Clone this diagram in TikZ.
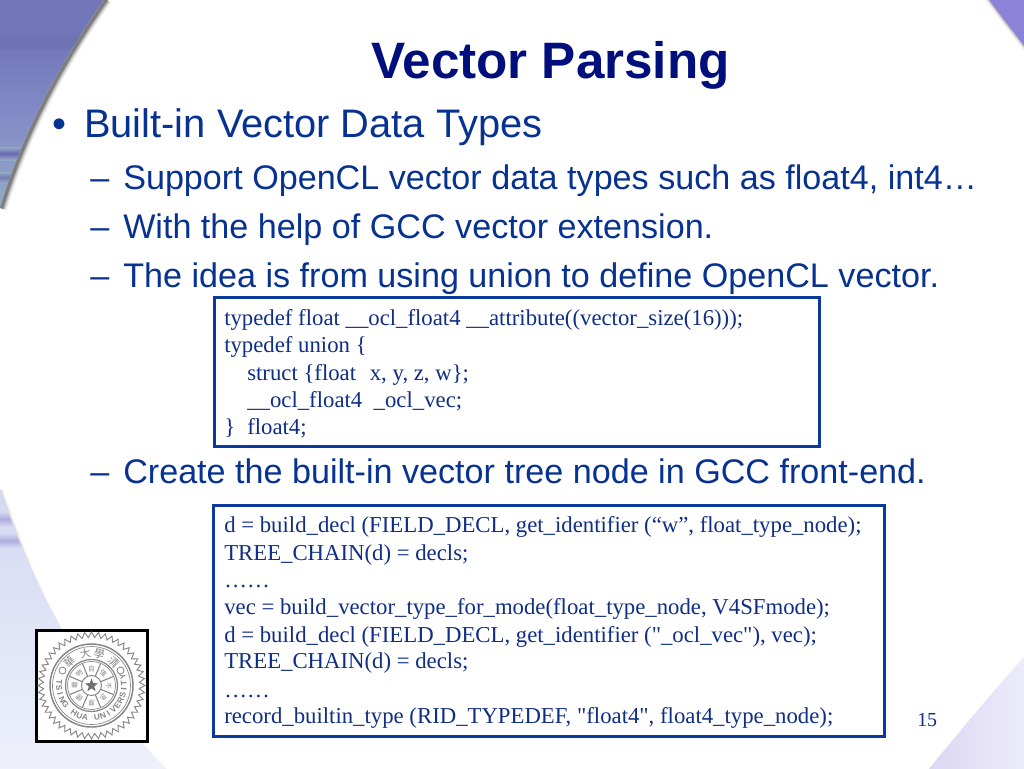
\documentclass[tikz,border=0pt]{standalone}
\usepackage{fontspec}
\setmainfont{Liberation Serif}
\newfontfamily\arialf{Liberation Sans}
\newfontfamily\codef{Liberation Serif}
\newfontfamily\cjkf{Noto Sans CJK TC}
\definecolor{titlecol}{HTML}{000F7C}
\definecolor{bodycol}{HTML}{073291}
\definecolor{codecol}{HTML}{0F2E84}
\definecolor{boxcol}{HTML}{0B3A9C}
\definecolor{sealcol}{HTML}{858585}
\definecolor{tlA}{RGB}{112,118,184}
\definecolor{tlB}{RGB}{130,138,198}
\definecolor{tlC}{RGB}{146,170,196}
\definecolor{tlBand}{RGB}{108,104,176}
\definecolor{blA}{RGB}{212,215,242}
\definecolor{blB}{RGB}{238,241,251}
\definecolor{blBand}{RGB}{176,172,222}
\definecolor{brA}{RGB}{220,214,243}
\definecolor{brB}{RGB}{236,236,250}
\definecolor{trA}{RGB}{140,130,216}
\newcommand{\cornerTL}{(105,-2) .. controls (65,55) and (25,125) .. (0,207)}
\newcommand{\cornerBL}{(0,490) .. controls (22,555) and (75,680) .. (168,770)}
\newcommand{\cornerBR}{(1026,655) .. controls (1000,683) and (965,725) .. (928,770)}
\newcommand{\cornerTR}{(988,-2) .. controls (1000,15) and (1012,30) .. (1026,48)}
\tikzset{
  x=0.75pt,y=-0.75pt,
  titletext/.style={anchor=base west,inner sep=0pt,text=titlecol,font=\arialf\bfseries\fontsize{38.4}{44}\selectfont},
  leveltext/.style={anchor=base west,inner sep=0pt,text=bodycol,font=\arialf\fontsize{29.87}{34}\selectfont},
  subtext/.style={anchor=base west,inner sep=0pt,text=bodycol,font=\arialf\fontsize{25.6}{30}\selectfont},
  codetext/.style={anchor=base west,inner sep=0pt,text=codecol,font=\codef\fontsize{17.07}{20}\selectfont},
  codebox/.style={draw=boxcol,line width=2.25pt,fill=white},
  sealglyph/.style={inner sep=0pt,text=sealcol}
}
\begin{document}
\begin{tikzpicture}
\useasboundingbox (0,0) rectangle (1024,768);
\fill[white] (0,0) rectangle (1024,768);

% top-left corner with soft shadow
\begin{scope}[shift={(1.5,1.5)}]
\foreach \w/\o in {8/0.07,6/0.12,4/0.18,2.4/0.26}{
  \draw[black,opacity=\o,line width=\w pt] \cornerTL;
}
\end{scope}
\begin{scope}
\clip (-2,-2) -- \cornerTL -- (-2,207) -- cycle;
\fill[tlA] (-2,-2) rectangle (110,45);
\shade[top color=tlA,bottom color=tlB] (-2,40) rectangle (110,110);
\shade[top color=tlB,bottom color=tlC] (-2,110) rectangle (110,210);
\shade[top color=tlC,bottom color=tlC,middle color=tlBand] (-2,147) rectangle (30,160);
\shade[top color=tlC,bottom color=tlC,middle color=tlBand!70!tlC] (-2,172) rectangle (30,183);
\fill[tlA!80!black,opacity=.15] (-2,36) rectangle (110,50);
\end{scope}

% bottom-left corner
\foreach \w/\o in {5/0.03,3/0.05,1.6/0.08}{
  \draw[black,opacity=\o,line width=\w pt] (0,490) .. controls (12,525) and (35,585) .. (56,628);
}
\begin{scope}
\clip (-2,488) -- \cornerBL -- (-2,770) -- cycle;
\shade[top color=blA,bottom color=blB] (-2,488) rectangle (170,770);
\shade[top color=blA,bottom color=blA,middle color=blBand] (-2,512) rectangle (30,526);
\shade[top color=blA,bottom color=blA,middle color=blBand] (-2,534) rectangle (30,547);
\end{scope}

% bottom-right corner
\begin{scope}
\clip \cornerBR -- (1026,770) -- cycle;
\shade[left color=brA,right color=brB] (925,650) rectangle (1026,770);
\end{scope}

% top-right corner
\foreach \w/\o in {5/0.05,3/0.08,1.6/0.14}{
  \draw[black,opacity=\o,line width=\w pt] \cornerTR;
}
\fill[trA] \cornerTR -- (1026,-2) -- cycle;

% title and bullets
\node[titletext] (title) at (371,78) {Vector Parsing};
\node[leveltext] (bullet) at (52,137) {•};
\node[leveltext] (lvl) at (84,137) {Built-in Vector Data Types};
\node[subtext] (d1) at (90,189) {–};
\node[subtext] (s1) at (123,189) {Support OpenCL vector data types such as float4, int4…};
\node[subtext] (d2) at (90,238) {–};
\node[subtext] (s2) at (123,238) {With the help of GCC vector extension.};
\node[subtext] (d3) at (90,287) {–};
\node[subtext] (s3) at (123,287) {The idea is from using union to define OpenCL vector.};
\node[subtext] (d4) at (90,483) {–};
\node[subtext] (s4) at (123,483) {Create the built-in vector tree node in GCC front-end.};

% first code box
\draw[codebox] (214,297) rectangle (819,446);
\node[codetext] (a1) at (224,325) {typedef float \_\_ocl\_float4 \_\_attribute((vector\_size(16)));};
\node[codetext] (a2) at (224,352) {typedef union \{};
\node[codetext] (a3) at (247,380) {struct \{float\hspace{0.6em}x, y, z, w\};};
\node[codetext] (a4) at (247,407) {\_\_ocl\_float4\hspace{0.5em}\_ocl\_vec;};
\node[codetext] (a5) at (224,434) {\}};
\node[codetext] (a6) at (247,434) {float4;};

% second code box
\draw[codebox] (213,505) rectangle (884,736);
\node[codetext] (b1) at (224,532) {d = build\_decl (FIELD\_DECL, get\_identifier (“w”, float\_type\_node);};
\node[codetext] (b2) at (224,560) {TREE\_CHAIN(d) = decls;};
\node[codetext] (b3) at (224,587) {……};
\node[codetext] (b4) at (224,614) {vec = build\_vector\_type\_for\_mode(float\_type\_node, V4SFmode);};
\node[codetext] (b5) at (224,642) {d = build\_decl (FIELD\_DECL, get\_identifier ("\_ocl\_vec"), vec);};
\node[codetext] (b6) at (224,668) {TREE\_CHAIN(d) = decls;};
\node[codetext] (b7) at (224,697) {……};
\node[codetext] (b8) at (224,723) {record\_builtin\_type (RID\_TYPEDEF, "float4", float4\_type\_node);};

% page number
\node[anchor=base west,inner sep=0pt,text=codecol,font=\codef\fontsize{14.93}{18}\selectfont] (pg) at (917,726) {15};

% seal
\draw[draw=black,fill=white,line width=2.25pt] (36,630) rectangle (147,741);
\begin{scope}[shift={(91.5,685.5)}]
\draw[sealcol,line width=.7pt] plot[samples=97,domain=0:96,variable=\t] ({(mod(\t,2)==0?53.5:48)*cos(\t*3.75)},{(mod(\t,2)==0?53.5:48)*sin(\t*3.75)}) -- cycle;
\draw[sealcol,line width=1.1pt] (0,0) circle (41.5);
\draw[sealcol,line width=.5pt] (0,0) circle (39);
\draw[sealcol,line width=.9pt] (0,0) circle (26);
\draw[sealcol,line width=.5pt] (0,0) circle (24);
\draw[sealcol,line width=.7pt] (0,0) circle (10);
\foreach \a in {0,45,...,315}{
  \draw[sealcol,line width=.8pt] (\a+22.5:10) -- (\a+22.5:24);
}
\fill[sealcol!85!black] (-90:7)
  \foreach \a in {-54,-18,...,234}{ -- (\a:{mod(round((\a+90)/36),2)==0?7:2.9})} -- cycle;
\draw[sealcol,fill=white,line width=.6pt] (-29,-15) circle (3.5);
\draw[sealcol,fill=white,line width=.6pt] (29,-15) circle (3.5);
\foreach \c [count=\i] in {T,S,I,N,G,{},H,U,A,{},U,N,I,V,E,R,S,I,T,Y}{
  \pgfmathsetmacro{\ang}{174+10.6*(\i-1)}
  \node[sealglyph,font=\arialf\bfseries\fontsize{6.2}{7}\selectfont,rotate=\ang+90] (la\i) at ({32.5*cos(\ang)},{-32.5*sin(\ang)}) {\c};
}
\foreach \c/\ang/\n in {華/133/p,大/101/q,學/76/r,清/47/s}{
  \node[sealglyph,font=\cjkf\fontsize{8}{9}\selectfont,rotate=\ang-90] (cj\n) at ({32.5*cos(\ang)},{-32.5*sin(\ang)}) {\c};
}
\foreach \c/\ang/\n in {自/90/a,強/45/b,不/0/c,息/-45/d,厚/-90/e,德/-135/f,載/180/g,物/135/h}{
  \node[sealglyph,font=\cjkf\fontsize{5}{6}\selectfont,rotate=\ang-90] (mt\n) at ({17*cos(\ang)},{-17*sin(\ang)}) {\c};
}
\end{scope}
\end{tikzpicture}
\end{document}
